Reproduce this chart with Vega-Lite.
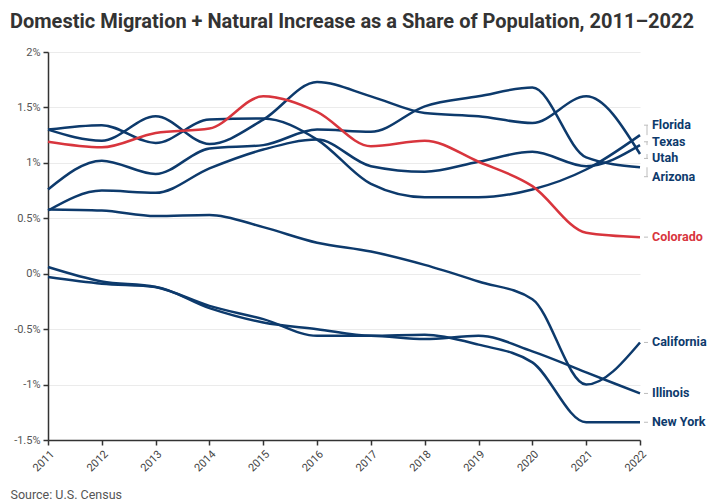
{
  "$schema": "https://vega.github.io/schema/vega-lite/v6.json",
  "autosize": "none",
  "width": 592,
  "height": 388,
  "padding": {"left": 48, "top": 52, "right": 68, "bottom": 64},
  "background": "white",
  "config": {"font": "Roboto", "view": {"stroke": null}},
  "title": {
    "text": "Domestic Migration + Natural Increase as a Share of Population, 2011–2022",
    "anchor": "start",
    "frame": "group",
    "dx": -38,
    "offset": 14,
    "font": "Roboto",
    "fontSize": 20,
    "fontWeight": "bold",
    "color": "#333333"
  },
  "datasets": {
    "series": [
      {"state": "Florida", "year": 2011, "value": 1.30},
      {"state": "Florida", "year": 2012, "value": 1.34},
      {"state": "Florida", "year": 2013, "value": 1.18},
      {"state": "Florida", "year": 2014, "value": 1.39},
      {"state": "Florida", "year": 2015, "value": 1.40},
      {"state": "Florida", "year": 2016, "value": 1.21},
      {"state": "Florida", "year": 2017, "value": 0.81},
      {"state": "Florida", "year": 2018, "value": 0.69},
      {"state": "Florida", "year": 2019, "value": 0.69},
      {"state": "Florida", "year": 2020, "value": 0.76},
      {"state": "Florida", "year": 2021, "value": 0.94},
      {"state": "Florida", "year": 2022, "value": 1.25},

      {"state": "Texas", "year": 2011, "value": 0.57},
      {"state": "Texas", "year": 2012, "value": 0.75},
      {"state": "Texas", "year": 2013, "value": 0.73},
      {"state": "Texas", "year": 2014, "value": 0.95},
      {"state": "Texas", "year": 2015, "value": 1.12},
      {"state": "Texas", "year": 2016, "value": 1.21},
      {"state": "Texas", "year": 2017, "value": 0.97},
      {"state": "Texas", "year": 2018, "value": 0.92},
      {"state": "Texas", "year": 2019, "value": 1.01},
      {"state": "Texas", "year": 2020, "value": 1.10},
      {"state": "Texas", "year": 2021, "value": 0.97},
      {"state": "Texas", "year": 2022, "value": 1.16},

      {"state": "Utah", "year": 2011, "value": 1.30},
      {"state": "Utah", "year": 2012, "value": 1.20},
      {"state": "Utah", "year": 2013, "value": 1.42},
      {"state": "Utah", "year": 2014, "value": 1.17},
      {"state": "Utah", "year": 2015, "value": 1.39},
      {"state": "Utah", "year": 2016, "value": 1.73},
      {"state": "Utah", "year": 2017, "value": 1.60},
      {"state": "Utah", "year": 2018, "value": 1.45},
      {"state": "Utah", "year": 2019, "value": 1.42},
      {"state": "Utah", "year": 2020, "value": 1.36},
      {"state": "Utah", "year": 2021, "value": 1.60},
      {"state": "Utah", "year": 2022, "value": 1.08},

      {"state": "Arizona", "year": 2011, "value": 0.76},
      {"state": "Arizona", "year": 2012, "value": 1.02},
      {"state": "Arizona", "year": 2013, "value": 0.90},
      {"state": "Arizona", "year": 2014, "value": 1.13},
      {"state": "Arizona", "year": 2015, "value": 1.16},
      {"state": "Arizona", "year": 2016, "value": 1.30},
      {"state": "Arizona", "year": 2017, "value": 1.28},
      {"state": "Arizona", "year": 2018, "value": 1.51},
      {"state": "Arizona", "year": 2019, "value": 1.60},
      {"state": "Arizona", "year": 2020, "value": 1.68},
      {"state": "Arizona", "year": 2021, "value": 1.05},
      {"state": "Arizona", "year": 2022, "value": 0.96},

      {"state": "Colorado", "year": 2011, "value": 1.19},
      {"state": "Colorado", "year": 2012, "value": 1.14},
      {"state": "Colorado", "year": 2013, "value": 1.27},
      {"state": "Colorado", "year": 2014, "value": 1.31},
      {"state": "Colorado", "year": 2015, "value": 1.60},
      {"state": "Colorado", "year": 2016, "value": 1.46},
      {"state": "Colorado", "year": 2017, "value": 1.15},
      {"state": "Colorado", "year": 2018, "value": 1.20},
      {"state": "Colorado", "year": 2019, "value": 1.01},
      {"state": "Colorado", "year": 2020, "value": 0.79},
      {"state": "Colorado", "year": 2021, "value": 0.37},
      {"state": "Colorado", "year": 2022, "value": 0.33},

      {"state": "California", "year": 2011, "value": 0.58},
      {"state": "California", "year": 2012, "value": 0.57},
      {"state": "California", "year": 2013, "value": 0.52},
      {"state": "California", "year": 2014, "value": 0.53},
      {"state": "California", "year": 2015, "value": 0.42},
      {"state": "California", "year": 2016, "value": 0.28},
      {"state": "California", "year": 2017, "value": 0.20},
      {"state": "California", "year": 2018, "value": 0.08},
      {"state": "California", "year": 2019, "value": -0.07},
      {"state": "California", "year": 2020, "value": -0.23},
      {"state": "California", "year": 2021, "value": -1.00},
      {"state": "California", "year": 2022, "value": -0.62},

      {"state": "Illinois", "year": 2011, "value": 0.06},
      {"state": "Illinois", "year": 2012, "value": -0.07},
      {"state": "Illinois", "year": 2013, "value": -0.12},
      {"state": "Illinois", "year": 2014, "value": -0.29},
      {"state": "Illinois", "year": 2015, "value": -0.41},
      {"state": "Illinois", "year": 2016, "value": -0.56},
      {"state": "Illinois", "year": 2017, "value": -0.56},
      {"state": "Illinois", "year": 2018, "value": -0.59},
      {"state": "Illinois", "year": 2019, "value": -0.56},
      {"state": "Illinois", "year": 2020, "value": -0.70},
      {"state": "Illinois", "year": 2021, "value": -0.89},
      {"state": "Illinois", "year": 2022, "value": -1.08},

      {"state": "New York", "year": 2011, "value": -0.03},
      {"state": "New York", "year": 2012, "value": -0.09},
      {"state": "New York", "year": 2013, "value": -0.12},
      {"state": "New York", "year": 2014, "value": -0.31},
      {"state": "New York", "year": 2015, "value": -0.44},
      {"state": "New York", "year": 2016, "value": -0.50},
      {"state": "New York", "year": 2017, "value": -0.56},
      {"state": "New York", "year": 2018, "value": -0.55},
      {"state": "New York", "year": 2019, "value": -0.64},
      {"state": "New York", "year": 2020, "value": -0.80},
      {"state": "New York", "year": 2021, "value": -1.34},
      {"state": "New York", "year": 2022, "value": -1.34}
    ],
    "labels": [
      {"state": "Florida", "year": 2022, "value": 1.25, "labelAt": 1.34},
      {"state": "Texas", "year": 2022, "value": 1.16, "labelAt": 1.19},
      {"state": "Utah", "year": 2022, "value": 1.08, "labelAt": 1.04},
      {"state": "Arizona", "year": 2022, "value": 0.96, "labelAt": 0.875},
      {"state": "Colorado", "year": 2022, "value": 0.33, "labelAt": 0.33},
      {"state": "California", "year": 2022, "value": -0.62, "labelAt": -0.62},
      {"state": "Illinois", "year": 2022, "value": -1.08, "labelAt": -1.08},
      {"state": "New York", "year": 2022, "value": -1.34, "labelAt": -1.34}
    ]
  },
  "resolve": {"scale": {"color": "shared"}},
  "layer": [
    {
      "data": {"name": "series"},
      "mark": {"type": "line", "interpolate": "monotone", "strokeWidth": 2.5},
      "encoding": {
        "x": {
          "field": "year",
          "type": "quantitative",
          "scale": {"domain": [2011, 2022], "nice": false, "zero": false},
          "axis": {
            "values": [2011, 2012, 2013, 2014, 2015, 2016, 2017, 2018, 2019, 2020, 2021, 2022],
            "format": "d",
            "labelAngle": -45,
            "labelFontSize": 11,
            "labelColor": "#444444",
            "labelPadding": 3,
            "grid": false,
            "domainColor": "#333333",
            "domainWidth": 1.5,
            "tickColor": "#333333",
            "tickWidth": 1.5,
            "tickSize": 5,
            "title": "Source: U.S. Census",
            "titleFontSize": 12.5,
            "titleFontWeight": "normal",
            "titleColor": "#555555",
            "titleAnchor": "start",
            "titleAlign": "left",
            "titleBaseline": "middle",
            "titleX": -38,
            "titleY": 54
          }
        },
        "y": {
          "field": "value",
          "type": "quantitative",
          "scale": {"domain": [-1.5, 2], "nice": false},
          "axis": {
            "values": [-1.5, -1, -0.5, 0, 0.5, 1, 1.5, 2],
            "labelExpr": "datum.value + '%'",
            "labelFontSize": 11,
            "labelColor": "#555555",
            "labelPadding": 3,
            "gridColor": "#ebebeb",
            "gridWidth": 1.2,
            "domainColor": "#333333",
            "domainWidth": 1.5,
            "tickColor": "#333333",
            "tickWidth": 1.5,
            "tickSize": 5,
            "title": null
          }
        },
        "color": {
          "field": "state",
          "type": "nominal",
          "scale": {
            "domain": ["Florida", "Texas", "Utah", "Arizona", "Colorado", "California", "Illinois", "New York"],
            "range": ["#0d3a6c", "#0d3a6c", "#0d3a6c", "#0d3a6c", "#d8353d", "#0d3a6c", "#0d3a6c", "#0d3a6c"]
          },
          "legend": null
        }
      }
    },
    {
      "data": {"name": "labels"},
      "mark": {"type": "rule", "color": "#bdbdbd", "strokeWidth": 1, "xOffset": 7, "x2Offset": 7},
      "encoding": {
        "x": {"field": "year", "type": "quantitative"},
        "y": {"field": "value", "type": "quantitative"},
        "y2": {"field": "labelAt"}
      }
    },
    {
      "data": {"name": "labels"},
      "mark": {"type": "rule", "color": "#bdbdbd", "strokeWidth": 1, "xOffset": 4, "x2Offset": 8},
      "encoding": {
        "x": {"field": "year", "type": "quantitative"},
        "x2": {"field": "year"},
        "y": {"field": "labelAt", "type": "quantitative"}
      }
    },
    {
      "data": {"name": "labels"},
      "mark": {"type": "text", "align": "left", "baseline": "middle", "dx": 12, "fontSize": 12.5, "fontWeight": "bold", "font": "Roboto"},
      "encoding": {
        "x": {"field": "year", "type": "quantitative"},
        "y": {"field": "labelAt", "type": "quantitative"},
        "text": {"field": "state"},
        "color": {"field": "state", "type": "nominal", "legend": null}
      }
    }
  ]
}
